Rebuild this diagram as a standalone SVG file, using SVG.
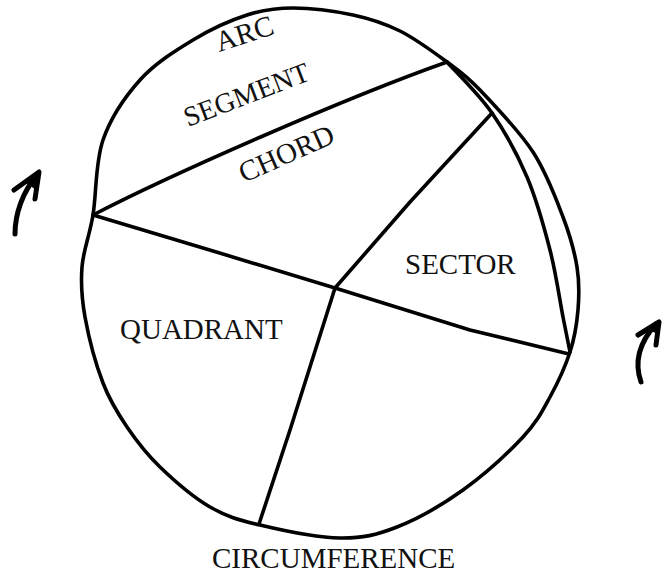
<svg xmlns="http://www.w3.org/2000/svg" width="666" height="575" viewBox="0 0 666 575">
<style>
.ln{fill:none;stroke:#000;stroke-width:3.6;stroke-linecap:round;stroke-linejoin:round}
.ar{fill:none;stroke:#000;stroke-width:5;stroke-linecap:round;stroke-linejoin:round}
.t{font-family:"Liberation Serif","Times New Roman",serif;font-size:29px;fill:#111}
</style>
<rect width="666" height="575" fill="#fff"/>
<g id="circle">
<path class="ln" d="M93,215 C96.5,193.8 95.2,162.5 103,140 C110.8,117.5 125,96.7 140,80 C155,63.3 175.2,50.8 193,40 C210.8,29.2 230.3,20.3 247,15 C263.7,9.7 275.3,8 293,8 C310.7,8 335.2,11.2 353,15 C370.8,18.8 384.3,23.2 400,31 C415.7,38.8 433.7,52.2 447,62 C460.3,71.8 465.7,75 480,90 C494.3,105 519.2,130.8 533,152 C546.8,173.2 555.7,197.8 563,217 C570.3,236.2 574.5,251.5 577,267 C579.5,282.5 579.2,295.8 578,310 C576.8,324.2 574.7,337.5 570,352 C565.3,366.5 557.8,382.8 550,397 C542.2,411.2 537.5,421.5 523,437 C508.5,452.5 484,475 463,490 C442,505 417.5,519 397,527 C376.5,535 362.8,538.3 340,538 C317.2,537.7 281.7,530.2 260,525 C238.3,519.8 226.7,516.7 210,507 C193.3,497.3 173.8,480.3 160,467 C146.2,453.7 136.5,441 127,427 C117.5,413 110,401.3 103,383 C96,364.7 88.5,336.3 85,317 C81.5,297.7 80.7,284 82,267 C83.3,250 89.5,236.2 93,215 Z"/>
</g>
<g id="connectors">
<path id="inner-arc" class="ln" d="M447,62 C454.5,70.5 478.7,93.8 492,113 C505.3,132.2 517.3,154.2 527,177 C536.7,199.8 544,226.7 550,250 C556,273.3 559.7,300 563,317 C566.3,334 568.8,346.2 570,352"/>
<path id="chord" class="ln" d="M93,215 C170,175 345,98 447,62"/>
<path id="diameter" class="ln" d="M93,215 L213,251 L335,288 L470,330 L569,354"/>
<path id="radius-top" class="ln" d="M335,288 L410,202 L492,113"/>
<path id="radius-bottom" class="ln" d="M335,288 L290,430 L259,524"/>
</g>
<g id="arrow-left">
<path class="ar" d="M15,234 C15,215 22,192 38,174"/>
<path class="ar" d="M14,190 L39,172 L35,199"/>
<path d="M25,182 L39,172 L36,190 Z" fill="#000"/>
</g>
<g id="arrow-right">
<path class="ar" d="M641,382 C635,365 637,345 656,324"/>
<path class="ar" d="M638,335 L659,322 L656,345"/>
<path d="M648,329 L659,322 L657,334 Z" fill="#000"/>
</g>
<g id="labels">
<text class="t" transform="translate(219,52) rotate(-18)">ARC</text>
<text class="t" font-size="28" transform="translate(188,127) rotate(-21)" style="font-size:28px">SEGMENT</text>
<text class="t" transform="translate(244,183) rotate(-24)">CHORD</text>
<text class="t" x="405" y="274">SECTOR</text>
<text class="t" x="120" y="339">QUADRANT</text>
<text class="t" x="212" y="568">CIRCUMFERENCE</text>
</g>
</svg>
